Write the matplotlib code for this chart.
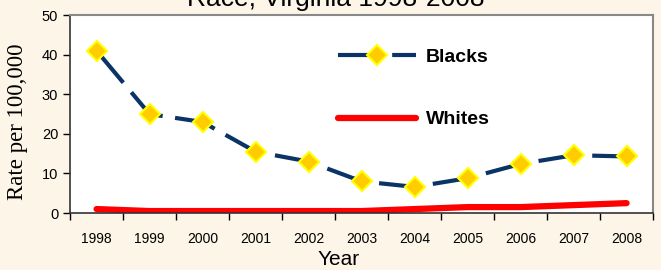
import matplotlib
matplotlib.use('Agg')
import matplotlib.pyplot as plt

# data
years = ['1998', '1999', '2000', '2001', '2002', '2003', '2004', '2005', '2006', '2007', '2008']
blacks = [41, 25, 23, 15.5, 13, 8, 6.6, 8.8, 12.4, 14.6, 14.3]
whites = [1.0, 0.5, 0.5, 0.5, 0.5, 0.5, 1.0, 1.5, 1.5, 2.0, 2.5]
yticks = [0, 10, 20, 30, 40, 50]

bg = '#fcf5e8'
fig = plt.figure(figsize=(6.61, 2.70), dpi=100, facecolor=bg)
ax = fig.add_axes([0.106, 0.211, 0.882, 0.733])
ax.set_facecolor('white')

x = range(len(years))
ax.plot(x, blacks, color='#0a3366', lw=3, dashes=(10, 3), marker='D', ms=10,
        markerfacecolor='#ffcc00', markeredgecolor='#ffff00', markeredgewidth=1.5,
        label='Blacks', zorder=3)
ax.plot(x, whites, color='#ff0000', lw=4.5, solid_capstyle='round', label='Whites', zorder=2)

ax.set_xlim(-0.5, len(years) - 0.5)
ax.set_ylim(0, 50)
ax.set_yticks(yticks)
ax.set_xticks(list(x))
ax.set_xticklabels(years)
ax.set_xticks([i - 0.5 for i in range(len(years) + 1)], minor=True)
ax.tick_params(axis='x', which='major', length=0, pad=14, labelsize=10)
ax.tick_params(axis='x', which='minor', length=5, width=1, direction='out')
ax.tick_params(axis='y', length=5, width=1, direction='out', labelsize=10.5)
for lbl in ax.get_xticklabels() + ax.get_yticklabels():
    lbl.set_family('Liberation Sans')

for s in ['top', 'right']:
    ax.spines[s].set_color('#888888')
    ax.spines[s].set_linewidth(1.5)
for s in ['left', 'bottom']:
    ax.spines[s].set_color('#333333')
    ax.spines[s].set_linewidth(1.2)

ax.set_xlabel('Year', fontsize=15, family='Liberation Sans')
ax.xaxis.set_label_coords(0.46, -0.185)
ax.set_ylabel('Rate per 100,000', fontsize=16.5, family='Liberation Serif')
ax.yaxis.set_label_coords(-0.072, 0.46)

leg = ax.legend(loc='upper left', bbox_to_anchor=(0.43, 0.92), frameon=False,
                handlelength=4.0, handletextpad=0.5, labelspacing=2.3,
                prop={'family': 'Liberation Sans', 'weight': 'bold', 'size': 14})

fig.text(0.508, 1 - 6 / 270, 'Race, Virginia 1998-2008', ha='center', va='baseline',
         fontsize=19, family='Liberation Sans')

fig.savefig('out.png', dpi=100, facecolor=bg)
